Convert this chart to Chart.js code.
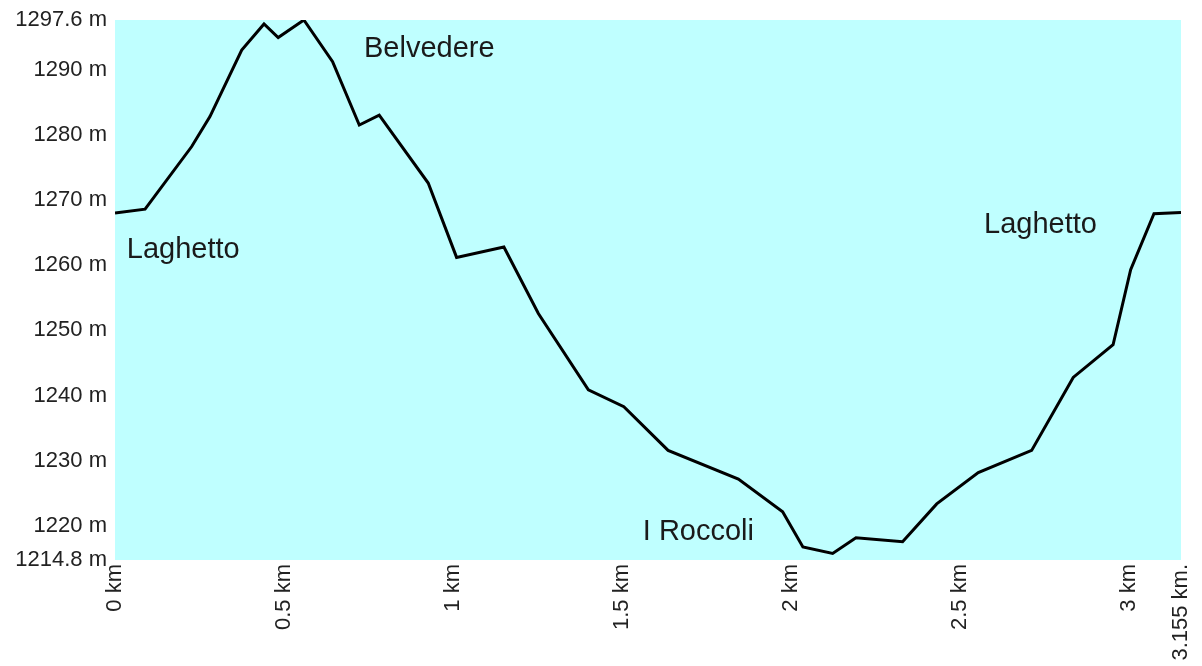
<!DOCTYPE html>
<html>
<head>
<meta charset="utf-8">
<script src="https://cdn.jsdelivr.net/npm/chart.js@4.4.1/dist/chart.umd.min.js"></script>
<style>
  html, body { margin: 0; padding: 0; background: #fff; }
  #wrap { width: 1202px; height: 666px; }
</style>
</head>
<body>
<div id="wrap"><canvas id="profile"></canvas></div>
<script>
// elevation profile, distance in km / altitude in m
const distances = [0, 0.089, 0.227, 0.281, 0.375, 0.441, 0.483, 0.559, 0.644, 0.723, 0.782, 0.927,
  1.011, 1.151, 1.253, 1.401, 1.506, 1.637, 1.845, 1.976, 2.036, 2.124, 2.193, 2.331, 2.432,
  2.555, 2.713, 2.836, 2.954, 3.006, 3.075, 3.155];
const altitudes = [1268.0, 1268.6, 1278.2, 1282.8, 1293.0, 1297.0, 1294.9, 1297.6, 1291.2, 1281.5, 1283.0, 1272.6,
  1261.2, 1262.8, 1252.6, 1240.9, 1238.3, 1231.6, 1227.2, 1222.2, 1216.8, 1215.8, 1218.2, 1217.6, 1223.4,
  1228.2, 1231.6, 1242.8, 1247.8, 1259.3, 1267.9, 1268.1];

const xTicks = [0, 0.5, 1, 1.5, 2, 2.5, 3, 3.155];
const xTickLabels = ['0 km', '0.5 km', '1 km', '1.5 km', '2 km', '2.5 km', '3 km', '3.155 km.'];
const yTicks = [1214.8, 1220, 1230, 1240, 1250, 1260, 1270, 1280, 1290, 1297.6];

const placeNames = ['Laghetto', 'Belvedere', 'I Roccoli', 'Laghetto'];
const placeKm = [0.035, 0.737, 1.562, 2.572];
const placeAlt = [1261.1, 1292.0, 1217.9, 1265.0];

const points = distances.map((d, i) => ({ x: d, y: altitudes[i] }));

// cyan plot background + place names
const profileDecor = {
  id: 'profileDecor',
  beforeDatasetsDraw(chart) {
    const { ctx, chartArea } = chart;
    ctx.save();
    ctx.fillStyle = '#bfffff';
    ctx.fillRect(chartArea.left, chartArea.top, chartArea.right - chartArea.left, chartArea.bottom - chartArea.top);
    ctx.restore();
  },
  afterDatasetsDraw(chart) {
    const { ctx, scales } = chart;
    ctx.save();
    ctx.fillStyle = '#1a1a1a';
    ctx.font = '29px "Liberation Sans", Arial, sans-serif';
    ctx.textAlign = 'left';
    ctx.textBaseline = 'alphabetic';
    placeNames.forEach((name, i) => {
      ctx.fillText(name, scales.x.getPixelForValue(placeKm[i]), scales.y.getPixelForValue(placeAlt[i]));
    });
    ctx.restore();
  }
};

const tickFont = { family: '"Liberation Sans", Arial, sans-serif', size: 22 };

new Chart(document.getElementById('profile').getContext('2d'), {
  type: 'line',
  data: {
    datasets: [{
      data: points,
      borderColor: '#000',
      borderWidth: 3,
      pointRadius: 0,
      fill: false,
      tension: 0
    }]
  },
  options: {
    responsive: true,
    maintainAspectRatio: false,
    animation: false,
    layout: { padding: { top: 20, right: 21, left: 0, bottom: 0 } },
    plugins: {
      legend: { display: false },
      tooltip: { enabled: false }
    },
    scales: {
      x: {
        type: 'linear',
        min: 0,
        max: 3.155,
        grid: { display: false, drawTicks: false },
        border: { display: false },
        afterBuildTicks: scale => { scale.ticks = xTicks.map(v => ({ value: v })); },
        afterFit: scale => {
          scale.height = 106;
          scale.paddingLeft = 0;
          scale.paddingRight = 0;
        },
        ticks: {
          minRotation: 90,
          maxRotation: 90,
          padding: 4,
          color: '#222',
          font: tickFont,
          callback: (value, index) => xTickLabels[index]
        }
      },
      y: {
        min: 1214.8,
        max: 1297.6,
        grid: { display: false, drawTicks: false },
        border: { display: false },
        afterBuildTicks: scale => { scale.ticks = yTicks.map(v => ({ value: v })); },
        afterFit: scale => {
          scale.width = 115;
          scale.paddingTop = 0;
          scale.paddingBottom = 0;
        },
        ticks: {
          padding: 8,
          color: '#222',
          font: tickFont,
          callback: value => value + ' m'
        }
      }
    }
  },
  plugins: [profileDecor]
});
</script>
</body>
</html>
